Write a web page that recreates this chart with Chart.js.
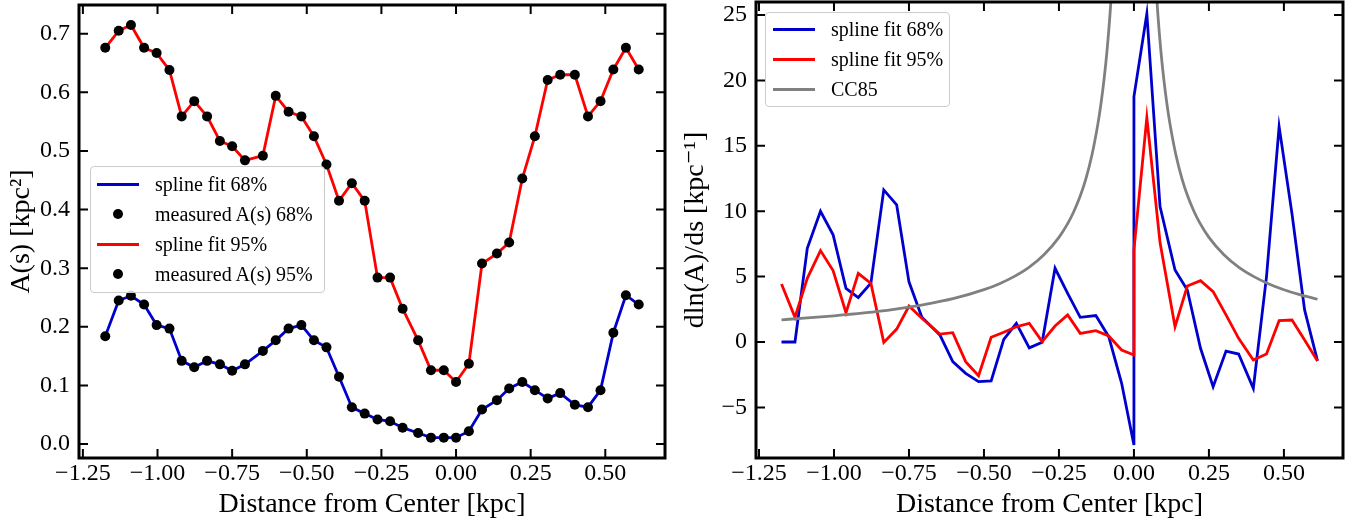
<!DOCTYPE html>
<html>
<head>
<meta charset="utf-8">
<title>A(s) and dln(A)/ds</title>
<script src="https://cdn.jsdelivr.net/npm/chart.js@4.4.1/dist/chart.umd.min.js"></script>
<style>
    html, body { margin: 0; padding: 0; background: #fff; }
    #wrap { position: relative; width: 1364px; height: 527px; overflow: hidden; }
    canvas { position: absolute; top: 0; }
    #areaChart { left: 0; }
    #slopeChart { left: 670px; }
    .legend {
        position: absolute;
        box-sizing: border-box;
        border: 1px solid #cccccc;
        border-radius: 4px;
        background: rgba(255, 255, 255, 0.8);
        font-family: 'Liberation Serif', 'DejaVu Serif', serif;
        font-size: 20px;
        color: #000;
    }
    .legend .item { display: flex; align-items: center; height: 30px; white-space: nowrap; }
    .legend .handle { width: 42px; margin-right: 16px; display: flex; justify-content: center; align-items: center; }
    .legend .line { width: 42px; height: 3px; }
    .legend .dot { width: 10px; height: 10px; border-radius: 50%; }
    #areaLegend { left: 90px; top: 166px; width: 235px; height: 127px; padding: 2px 0 3px 6px; }
    #slopeLegend { left: 765px; top: 12px; width: 185px; height: 95px; padding: 1px 0 2px 7px; }
</style>
</head>
<body>
<div id="wrap">
    <canvas id="areaChart" width="670" height="527"></canvas>
    <canvas id="slopeChart" width="694" height="527"></canvas>
    <div id="areaLegend" class="legend"></div>
    <div id="slopeLegend" class="legend"></div>
</div>
<script>
// Distância ao centro (kpc) dos pontos medidos
const distance = [-1.175, -1.130, -1.089, -1.045, -1.003, -0.960, -0.919, -0.877, -0.834, -0.791,
    -0.750, -0.707, -0.647, -0.604, -0.561, -0.518, -0.476, -0.434, -0.392, -0.349,
    -0.306, -0.263, -0.221, -0.179, -0.127, -0.084, -0.041, 0.000, 0.043, 0.087,
    0.137, 0.178, 0.222, 0.264, 0.307, 0.349, 0.398, 0.442, 0.484, 0.527, 0.569, 0.612];

// A(s) medido [kpc^2]
const area68 = [0.184, 0.245, 0.253, 0.238, 0.203, 0.197, 0.142, 0.131, 0.142, 0.136,
    0.125, 0.136, 0.159, 0.177, 0.197, 0.203, 0.177, 0.165, 0.115, 0.063,
    0.052, 0.042, 0.039, 0.028, 0.019, 0.011, 0.011, 0.011, 0.022, 0.059,
    0.075, 0.095, 0.106, 0.092, 0.078, 0.087, 0.067, 0.063, 0.092, 0.190, 0.254, 0.238];
const area95 = [0.676, 0.705, 0.715, 0.676, 0.667, 0.638, 0.559, 0.585, 0.559, 0.517,
    0.508, 0.484, 0.492, 0.594, 0.567, 0.559, 0.525, 0.477, 0.415, 0.445,
    0.415, 0.284, 0.284, 0.231, 0.177, 0.126, 0.126, 0.106, 0.137, 0.308,
    0.325, 0.344, 0.453, 0.525, 0.621, 0.630, 0.630, 0.559, 0.585, 0.639, 0.676, 0.639];

// Derivada dln(A)/ds [kpc^-1] (o centro aparece duas vezes: um lado e outro)
const slopeDistance = [-1.175, -1.130, -1.089, -1.045, -1.003, -0.960, -0.919, -0.877, -0.834, -0.791,
    -0.750, -0.707, -0.647, -0.604, -0.561, -0.518, -0.476, -0.434, -0.392, -0.349,
    -0.306, -0.263, -0.221, -0.179, -0.127, -0.084, -0.041, 0.000, 0.000, 0.043,
    0.087, 0.137, 0.178, 0.222, 0.264, 0.307, 0.349, 0.398, 0.442, 0.484, 0.527, 0.569, 0.612];
const slope68 = [0.0, 0.0, 7.17, 10.0, 8.2, 4.1, 3.4, 4.5, 11.63, 10.48,
    4.6, 1.9, 0.54, -1.5, -2.4, -3.03, -2.98, 0.2, 1.43, -0.45,
    -0.02, 5.64, 3.72, 1.89, 2.02, 0.41, -3.16, -7.88, 18.77, 25.1,
    10.35, 5.51, 3.98, -0.48, -3.42, -0.69, -0.92, -3.54, 5.0, 16.47, 9.8, 2.45, -1.45];
const slope95 = [4.44, 1.89, 4.87, 6.99, 5.46, 2.24, 5.25, 4.49, -0.03, 0.99,
    2.75, 1.81, 0.61, 0.71, -1.5, -2.58, 0.36, 0.74, 1.17, 1.43,
    0.03, 1.22, 2.07, 0.66, 0.87, 0.46, -0.61, -0.99, 7.04, 17.16,
    7.6, 1.17, 4.28, 4.69, 3.85, 2.07, 0.28, -1.38, -0.92, 1.63, 1.68, 0.15, -1.45];

// Curva CC85 (interrompida no centro)
const cc85Distance = [-1.175, -1.10, -1.00, -0.90, -0.80, -0.70, -0.60, -0.50, -0.45, -0.40,
    -0.35, -0.30, -0.25, -0.22, -0.20, -0.18, -0.16, -0.14, -0.12, -0.11,
    -0.10, -0.09, -0.08, -0.07, -0.06, 0.00,
    0.06, 0.07, 0.08, 0.09, 0.10, 0.11, 0.12, 0.14, 0.16, 0.18,
    0.20, 0.22, 0.25, 0.30, 0.35, 0.40, 0.45, 0.50, 0.55, 0.612];
const cc85Slope = [1.70, 1.82, 2.00, 2.22, 2.50, 2.86, 3.33, 4.00, 4.44, 5.00,
    5.71, 6.67, 8.00, 9.09, 10.0, 11.1, 12.5, 14.3, 16.7, 18.2,
    20.0, 22.2, 25.0, 28.6, 33.3, null,
    33.3, 28.6, 25.0, 22.2, 20.0, 18.2, 16.7, 14.3, 12.5, 11.1,
    10.0, 9.09, 8.00, 6.67, 5.71, 5.00, 4.44, 4.00, 3.64, 3.27];

// Marcas dos eixos
const distanceTicks = [-1.25, -1.00, -0.75, -0.50, -0.25, 0.00, 0.25, 0.50];
const areaTicks = [0.0, 0.1, 0.2, 0.3, 0.4, 0.5, 0.6, 0.7];
const slopeTicks = [-5, 0, 5, 10, 15, 20, 25];

const SERIF = "'Liberation Serif', 'DejaVu Serif', serif";
Chart.defaults.font.family = SERIF;
Chart.defaults.color = '#000';

document.addEventListener('DOMContentLoaded', function () {
    initializeAreaChart();
    initializeSlopeChart();
});

/**
 * Formata número com sinal de menos tipográfico
 */
function fmt(value, digits) {
    const text = Math.abs(value).toFixed(digits);
    return (value < -1e-9 ? '\u2212' : '') + text;
}

function toPoints(xs, ys) {
    return xs.map((x, i) => ({ x: x, y: ys[i] }));
}

/**
 * Moldura preta e marcas para dentro nos quatro lados
 */
const framePlugin = {
    id: 'frame',
    afterDatasetsDraw(chart) {
        const { ctx, chartArea: a, scales: { x, y } } = chart;
        ctx.save();
        ctx.strokeStyle = '#000';
        ctx.lineWidth = 2;
        ctx.beginPath();
        x.ticks.forEach(t => {
            const px = x.getPixelForValue(t.value);
            ctx.moveTo(px, a.bottom); ctx.lineTo(px, a.bottom - 9);
            ctx.moveTo(px, a.top); ctx.lineTo(px, a.top + 9);
        });
        y.ticks.forEach(t => {
            const py = y.getPixelForValue(t.value);
            ctx.moveTo(a.left, py); ctx.lineTo(a.left + 9, py);
            ctx.moveTo(a.right, py); ctx.lineTo(a.right - 9, py);
        });
        ctx.stroke();
        ctx.lineWidth = 3;
        ctx.strokeRect(a.left, a.top, a.right - a.left, a.bottom - a.top);
        ctx.restore();
    }
};

/**
 * Legenda em HTML posicionada dentro do gráfico
 */
const htmlLegendPlugin = {
    id: 'htmlLegend',
    afterUpdate(chart, args, options) {
        const box = document.getElementById(options.containerID);
        if (!box) return;
        box.innerHTML = '';
        chart.data.datasets.forEach(ds => {
            const row = document.createElement('div');
            row.className = 'item';
            const handle = document.createElement('span');
            handle.className = 'handle';
            const mark = document.createElement('span');
            if (ds.showLine === false) {
                mark.className = 'dot';
                mark.style.background = ds.pointBackgroundColor;
            } else {
                mark.className = 'line';
                mark.style.background = ds.borderColor;
            }
            handle.appendChild(mark);
            const label = document.createElement('span');
            label.textContent = ds.label;
            row.appendChild(handle);
            row.appendChild(label);
            box.appendChild(row);
        });
    }
};

function xScale(min, max) {
    return {
        type: 'linear',
        min: min,
        max: max,
        grid: { display: false, drawTicks: false },
        border: { display: false },
        afterBuildTicks: s => { s.ticks = distanceTicks.map(v => ({ value: v })); },
        afterFit: s => { s.height = 69; s.paddingLeft = 0; s.paddingRight = 0; },
        ticks: {
            autoSkip: false,
            maxRotation: 0,
            padding: 1,
            font: { size: 24 },
            callback: v => fmt(v, 2)
        },
        title: {
            display: true,
            text: 'Distance from Center [kpc]',
            font: { size: 28 },
            padding: { top: 0, bottom: 6 }
        }
    };
}

function yScale(min, max, tickValues, digits, width, title, titlePad) {
    return {
        type: 'linear',
        min: min,
        max: max,
        grid: { display: false, drawTicks: false },
        border: { display: false },
        afterBuildTicks: s => { s.ticks = tickValues.map(v => ({ value: v })); },
        afterFit: s => { s.width = width; s.paddingTop = 0; s.paddingBottom = 0; },
        ticks: {
            autoSkip: false,
            padding: 9,
            font: { size: 24 },
            callback: v => fmt(v, digits)
        },
        title: {
            display: true,
            text: title,
            font: { size: 28 },
            padding: { top: titlePad, bottom: 0 }
        }
    };
}

/**
 * Gráfico da área A(s)
 */
function initializeAreaChart() {
    const canvas = document.getElementById('areaChart');
    new Chart(canvas, {
        type: 'line',
        data: {
            datasets: [{
                label: 'spline fit 68%',
                data: toPoints(distance, area68),
                borderColor: '#0000cd',
                borderWidth: 2.8,
                pointRadius: 0,
                tension: 0,
                order: 4
            }, {
                label: 'measured A(s) 68%',
                data: toPoints(distance, area68),
                showLine: false,
                borderColor: '#000',
                pointBackgroundColor: '#000',
                pointBorderWidth: 0,
                pointRadius: 5,
                order: 3
            }, {
                label: 'spline fit 95%',
                data: toPoints(distance, area95),
                borderColor: '#ff0000',
                borderWidth: 2.8,
                pointRadius: 0,
                tension: 0,
                order: 2
            }, {
                label: 'measured A(s) 95%',
                data: toPoints(distance, area95),
                showLine: false,
                borderColor: '#000',
                pointBackgroundColor: '#000',
                pointBorderWidth: 0,
                pointRadius: 5,
                order: 1
            }]
        },
        options: {
            responsive: false,
            animation: false,
            events: [],
            layout: { padding: { top: 2, right: 2, left: 0, bottom: 0 } },
            scales: {
                x: xScale(-1.263, 0.70),
                y: yScale(-0.0237, 0.749, areaTicks, 1, 79, 'A(s) [kpc\u00b2]', 5)
            },
            plugins: {
                legend: { display: false },
                tooltip: { enabled: false },
                htmlLegend: { containerID: 'areaLegend' }
            }
        },
        plugins: [framePlugin, htmlLegendPlugin]
    });
}

/**
 * Gráfico da derivada dln(A)/ds
 */
function initializeSlopeChart() {
    const canvas = document.getElementById('slopeChart');
    new Chart(canvas, {
        type: 'line',
        data: {
            datasets: [{
                label: 'spline fit 68%',
                data: toPoints(slopeDistance, slope68),
                borderColor: '#0000cd',
                borderWidth: 2.8,
                pointRadius: 0,
                tension: 0,
                order: 3
            }, {
                label: 'spline fit 95%',
                data: toPoints(slopeDistance, slope95),
                borderColor: '#ff0000',
                borderWidth: 2.8,
                pointRadius: 0,
                tension: 0,
                order: 2
            }, {
                label: 'CC85',
                data: toPoints(cc85Distance, cc85Slope),
                borderColor: '#808080',
                borderWidth: 2.8,
                pointRadius: 0,
                cubicInterpolationMode: 'monotone',
                spanGaps: false,
                order: 1
            }]
        },
        options: {
            responsive: false,
            animation: false,
            events: [],
            layout: { padding: { top: 2, right: 21, left: 0, bottom: 0 } },
            scales: {
                x: xScale(-1.26, 0.697),
                y: yScale(-8.87, 26.0, slopeTicks, 0, 86, 'dln(A)/ds [kpc\u207b\u00b9]', 8.7)
            },
            plugins: {
                legend: { display: false },
                tooltip: { enabled: false },
                htmlLegend: { containerID: 'slopeLegend' }
            }
        },
        plugins: [framePlugin, htmlLegendPlugin]
    });
}
</script>
</body>
</html>
